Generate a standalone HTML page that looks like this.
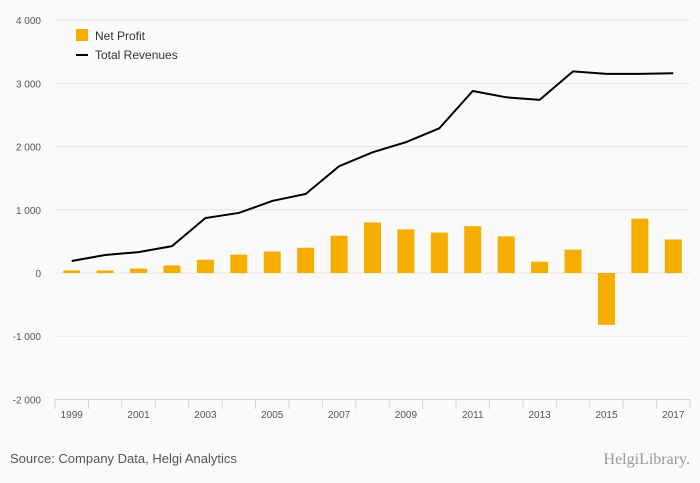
<!DOCTYPE html>
<html><head><meta charset="utf-8"><style>
body{margin:0;background:#fafafa;font-family:"Liberation Sans",sans-serif;}
svg{display:block}
</style></head><body>
<svg width="700" height="483" id="c">
<rect width="700" height="483" fill="#fafafa"/>
<g id="grid"></g><g id="bars"></g><g id="line"></g><g id="axes"></g>
<g>
<rect x="76" y="29" width="12" height="12" fill="#f5ad00"/>
<text x="95" y="40" font-size="12" fill="#333">Net Profit</text>
<line x1="76" y1="55" x2="88" y2="55" stroke="#000" stroke-width="2"/>
<text x="95" y="59" font-size="12" fill="#333">Total Revenues</text>
</g>
<text x="10" y="463" font-size="13" fill="#555">Source: Company Data, Helgi Analytics</text>
<text x="690" y="464" font-size="16" fill="#999" text-anchor="end" font-family="Liberation Serif,serif">HelgiLibrary.</text>
</svg>
<script>
const years=[1999,2000,2001,2002,2003,2004,2005,2006,2007,2008,2009,2010,2011,2012,2013,2014,2015,2016,2017];
const netProfit=[40,40,70,120,210,290,340,400,590,800,690,640,740,580,180,370,-820,860,530];
const revenues=[190,285,330,425,870,950,1140,1250,1690,1910,2070,2290,2880,2780,2740,3190,3150,3150,3160];
const yTicks=[-2000,-1000,0,1000,2000,3000,4000];
const ns="http://www.w3.org/2000/svg";
const X0=55,X1=690,step=(X1-X0)/years.length;
function x(i){return X0+step*(i+0.5);}
function y(v){return 273-v*0.0632;}
function mk(tag,attrs,parent){const e=document.createElementNS(ns,tag);for(const k in attrs)e.setAttribute(k,attrs[k]);document.getElementById(parent).appendChild(e);return e;}
yTicks.forEach(t=>{
 if(t>-2000){const l=mk('line',{x1:X0,x2:X1,y1:y(t),y2:y(t),stroke:'#e6e6e6'},'grid');
 
 }
 const tx=mk('text',{x:41,y:y(t)+4,'font-size':10,fill:'#555','text-anchor':'end'},'axes');
 tx.textContent=t.toLocaleString('en').replace(',',' ').replace('-','-');
 
 
});
netProfit.forEach((v,i)=>{
 const b=mk('rect',{x:x(i)-8.5,width:17,y:Math.min(y(v),y(0)),height:Math.abs(y(v)-y(0)),fill:'#f5ad00'},'bars');
 
 
});
const p=mk('polyline',{points:revenues.map((v,i)=>x(i)+','+y(v)).join(' '),fill:'none',stroke:'#000','stroke-width':2},'line');


const ax=mk('line',{x1:X0,x2:X1,y1:399.5,y2:399.5,stroke:'#ccd6eb'},'axes');


for(let i=0;i<=years.length;i++){
 const t=mk('line',{x1:X0+step*i,x2:X0+step*i,y1:399,y2:409,stroke:'#ccd6eb'},'axes');
 
 
}
years.forEach((yr,i)=>{if(i%2)return;
 const t=mk('text',{x:x(i),y:418,'font-size':10,fill:'#555','text-anchor':'middle'},'axes');
 t.textContent=yr;
 
 
});
</script>
</body></html>
